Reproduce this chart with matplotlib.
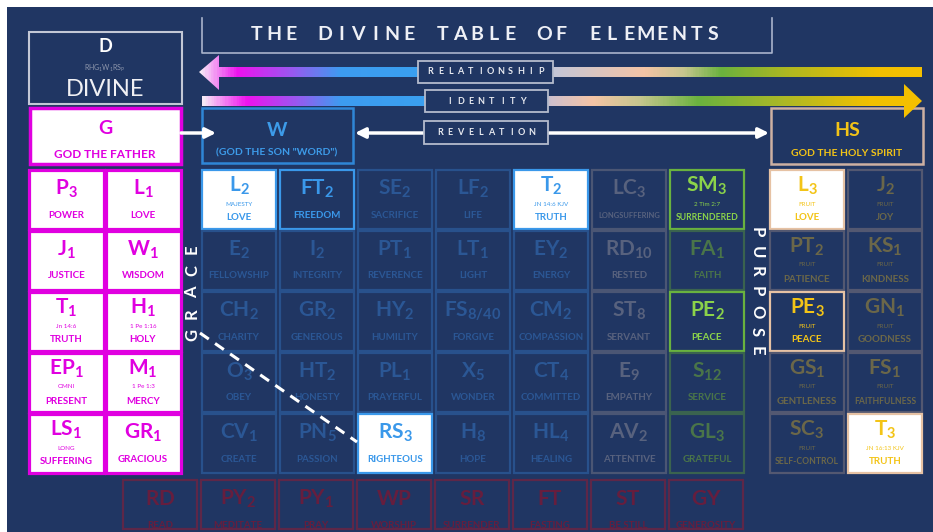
import numpy as np
import matplotlib
matplotlib.use("Agg")
import matplotlib.pyplot as plt
import matplotlib.patches as patches
from matplotlib.colors import LinearSegmentedColormap

plt.rcParams['font.family'] = ['Lato', 'DejaVu Sans']
plt.rcParams['mathtext.fontset'] = 'custom'
plt.rcParams['mathtext.rm'] = 'Lato'
plt.rcParams['mathtext.bf'] = 'Lato:bold'

# ---- data ----
title = "THE DIVINE TABLE OF ELEMENTS"
arrow_labels = ["RELATIONSHIP", "IDENTITY", "REVELATION"]
side_words = ["GRACE", "PURPOSE"]

head_syms = ["D", "G", "W", "HS"]
head_names = ["DIVINE", "GOD THE FATHER", '(GOD THE SON "WORD")', "GOD THE HOLY SPIRIT"]

father_sym = [["P", "L"], ["J", "W"], ["T", "H"], ["EP", "M"], ["LS", "GR"]]
father_sub = [["3", "1"], ["1", "1"], ["1", "1"], ["1", "1"], ["1", "1"]]
father_name = [["POWER", "LOVE"], ["JUSTICE", "WISDOM"], ["TRUTH", "HOLY"],
               ["PRESENT", "MERCY"], ["SUFFERING", "GRACIOUS"]]
father_note = [["", ""], ["", ""], ["Jn 14:6", "1 Pe 1:16"],
               ["OMNI", "1 Pe 1:3"], ["LONG", ""]]

son_sym = [["L", "FT", "SE", "LF", "T", "LC", "SM"],
           ["E", "I", "PT", "LT", "EY", "RD", "FA"],
           ["CH", "GR", "HY", "FS", "CM", "ST", "PE"],
           ["O", "HT", "PL", "X", "CT", "E", "S"],
           ["CV", "PN", "RS", "H", "HL", "AV", "GL"]]
son_sub = [["2", "2", "2", "2", "2", "3", "3"],
           ["2", "2", "1", "1", "2", "10", "1"],
           ["2", "2", "2", "8/40", "2", "8", "2"],
           ["3", "2", "1", "5", "4", "9", "12"],
           ["1", "5", "3", "8", "4", "2", "3"]]
son_name = [["LOVE", "FREEDOM", "SACRIFICE", "LIFE", "TRUTH", "LONGSUFFERING", "SURRENDERED"],
            ["FELLOWSHIP", "INTEGRITY", "REVERENCE", "LIGHT", "ENERGY", "RESTED", "FAITH"],
            ["CHARITY", "GENEROUS", "HUMILITY", "FORGIVE", "COMPASSION", "SERVANT", "PEACE"],
            ["OBEY", "HONESTY", "PRAYERFUL", "WONDER", "COMMITTED", "EMPATHY", "SERVICE"],
            ["CREATE", "PASSION", "RIGHTEOUS", "HOPE", "HEALING", "ATTENTIVE", "GRATEFUL"]]
son_note = [["MAJESTY", "", "", "", "JN 14:6 KJV", "", "2 Tim 2:7"],
            [""] * 7, [""] * 7, [""] * 7, [""] * 7]
son_lit = [["w", "b", "", "", "w", "", "b"],
           ["", "", "", "", "", "", ""],
           ["", "", "", "", "", "", "b"],
           ["", "", "", "", "", "", ""],
           ["", "", "w", "", "", "", ""]]
son_family = ["blue", "blue", "blue", "blue", "blue", "grey", "green"]

spirit_sym = [["L", "J"], ["PT", "KS"], ["PE", "GN"], ["GS", "FS"], ["SC", "T"]]
spirit_sub = [["3", "2"], ["2", "1"], ["3", "1"], ["1", "1"], ["3", "3"]]
spirit_name = [["LOVE", "JOY"], ["PATIENCE", "KINDNESS"], ["PEACE", "GOODNESS"],
               ["GENTLENESS", "FAITHFULNESS"], ["SELF-CONTROL", "TRUTH"]]
spirit_note = [["FRUIT", "FRUIT"], ["FRUIT", "FRUIT"], ["FRUIT", "FRUIT"],
               ["FRUIT", "FRUIT"], ["FRUIT", "JN 16:13 KJV"]]
spirit_lit = [["w", ""], ["", ""], ["b", ""], ["", ""], ["", "w"]]

path_sym = ["RD", "PY", "PY", "WP", "SR", "FT", "ST", "GY"]
path_sub = ["", "2", "1", "", "", "", "", ""]
path_name = ["READ", "MEDITATE", "PRAY", "WORSHIP", "SURRENDER", "FASTING", "BE STILL", "GENEROSITY"]

# ---- styles ----
navy = '#203663'
colors = {
    'father': dict(dim_edge='#e000e0', dim_text='#e000e0', edge='#e000e0', text='#e000e0'),
    'blue': dict(dim_edge='#28518c', dim_text='#2b5795', edge='#3a98ea', text='#3a98ea'),
    'grey': dict(dim_edge='#4b5674', dim_text='#58627e', edge='#8a93aa', text='#8a93aa'),
    'green': dict(dim_edge='#3a634f', dim_text='#4a7549', edge='#69b23f', text='#8bd34a'),
    'gold': dict(dim_edge='#535871', dim_text='#6b6749', edge='#e6c2a4', text='#f3c417'),
    'red': dict(dim_edge='#5e2748', dim_text='#661e3e', edge='#5e2748', text='#661e3e'),
}

fig = plt.figure(figsize=(9.33, 5.32), dpi=100)
ax = fig.add_axes([0, 0, 1, 1])
ax.axis('off')
ax.add_patch(patches.Rectangle((7, 7), 930, 530, facecolor=navy, edgecolor='none', zorder=0))


def spaced(xa, xb, y, s, rot=0, **kw):
    n = len(s)
    for i, ch in enumerate(s):
        t = i / (n - 1)
        if rot == 0:
            ax.text(xa + (xb - xa) * t, y, ch, ha='center', va='center', **kw)
        else:
            ax.text(y, xa + (xb - xa) * t, ch, ha='center', va='center', rotation=rot, **kw)


def cell(x0, y0, w, h, sym, sub, name, note, family, lit, fill=None, lw=1.6):
    c = colors[family]
    edge = c['edge'] if lit else c['dim_edge']
    txt = c['text'] if lit else c['dim_text']
    if fill is None:
        fill = 'white' if lit == 'w' else navy
    ax.add_patch(patches.Rectangle((x0, y0), w, h, facecolor=fill, edgecolor=edge, lw=lw, zorder=3))
    if sub:
        label = r'$\mathbf{' + sym + r'}_{\mathbf{' + sub + r'}}$'
    else:
        label = r'$\mathbf{' + sym + r'}$'
    ax.text(x0 + w / 2, y0 + (16 if note else 19), label, color=txt, fontsize=15,
            ha='center', va='center', zorder=4)
    if note:
        ax.text(x0 + w / 2, y0 + 34, note, color=txt, fontsize=4.5,
                ha='center', va='center', zorder=4)
    if len(name) <= 10:
        fs = 7
    elif len(name) <= 12:
        fs = 6.2
    else:
        fs = 5.4
    ax.text(x0 + w / 2, y0 + (48 if note else 45), name, color=txt, fontsize=fs,
            fontweight='bold', ha='center', va='center', zorder=4)


# title bracket
ax.plot([202, 202, 772, 772], [18, 53, 53, 18], color='#a9b4cc', lw=1.2, zorder=2)
spaced(257, 713, 35, title, color='#eef0f6', fontsize=14, fontweight='bold')

# D box
ax.add_patch(patches.Rectangle((29, 32), 153, 72, facecolor=navy, edgecolor='#c3c8d6', lw=1.5, zorder=3))
ax.text(105, 46, head_syms[0], color='white', fontsize=13, fontweight='bold', ha='center', va='center', zorder=4)
ax.text(105, 68, r'$\mathrm{RHG_1W_1RS_P}$', color='#8e97ad', fontsize=5, ha='center', va='center', zorder=4)
ax.text(105, 90, head_names[0], color='#f0f0f4', fontsize=17, ha='center', va='center', zorder=4)

# G box
ax.add_patch(patches.Rectangle((30, 108), 151, 56, facecolor='white', edgecolor='#e000e0', lw=2.5, zorder=3))
ax.text(105, 129, head_syms[1], color='#e000e0', fontsize=14, fontweight='bold', ha='center', va='center', zorder=4)
ax.text(105, 154, head_names[1], color='#e000e0', fontsize=8.5, fontweight='bold',
        ha='center', va='center', zorder=4)

# W box
ax.add_patch(patches.Rectangle((202, 108), 151, 55, facecolor=navy, edgecolor='#2f86d6', lw=1.8, zorder=3))
ax.text(277, 130, head_syms[2], color='#3d9be9', fontsize=14, fontweight='bold', ha='center', va='center', zorder=4)
ax.text(277, 153, head_names[2], color='#3d9be9', fontsize=7.5, fontweight='bold',
        ha='center', va='center', zorder=4)

# HS box
ax.add_patch(patches.Rectangle((771, 108), 152, 56, facecolor=navy, edgecolor='#cdb0a2', lw=1.8, zorder=3))
ax.text(847, 130, head_syms[3], color='#f3c417', fontsize=14, fontweight='bold', ha='center', va='center', zorder=4)
ax.text(847, 153, head_names[3], color='#f3c417', fontsize=7.5, fontweight='bold',
        ha='center', va='center', zorder=4)


# gradient arrows
def gradient_arrow(verts, stops, x0, x1):
    poly = patches.Polygon(verts, closed=True, facecolor='none', edgecolor='none', zorder=5)
    ax.add_patch(poly)
    cmap = LinearSegmentedColormap.from_list('g', [((x - x0) / (x1 - x0), c) for x, c in stops])
    grad = np.linspace(0, 1, 600).reshape(1, -1)
    ys = [v[1] for v in verts]
    im = ax.imshow(grad, cmap=cmap, extent=(x0, x1, max(ys), min(ys)), aspect='auto',
                   interpolation='bilinear', zorder=5)
    im.set_clip_path(poly)


rel_stops = [(199, '#f6e8f6'), (236, '#ee12ee'), (290, '#9a58f0'), (340, '#3d9cf0'),
             (418, '#3aa0f0'), (555, '#c4c6d6'), (645, '#f4c4a6'), (685, '#c6c68e'),
             (722, '#6ab23e'), (790, '#b0b820'), (880, '#f2c000'), (922, '#f5c000')]
gradient_arrow([(199, 72), (219, 55), (219, 67), (922, 67), (922, 77), (219, 77), (219, 90)],
               rel_stops, 199, 922)

id_stops = [(202, '#f6e8f6'), (245, '#ee12ee'), (295, '#9a58f0'), (340, '#3d9cf0'),
            (424, '#3aa0f0'), (552, '#d0c0cc'), (593, '#f4c4a6'), (640, '#c6c68e'),
            (700, '#6ab23e'), (780, '#a8b828'), (870, '#f2c000'), (922, '#f5c000')]
gradient_arrow([(202, 96), (904, 96), (904, 84), (922, 101), (904, 118), (904, 106), (202, 106)],
               id_stops, 202, 922)

# revelation double arrow and G -> W arrow
ax.annotate('', xy=(769, 133), xytext=(355, 133),
            arrowprops=dict(arrowstyle='<|-|>', color='white', lw=2.5, mutation_scale=15,
                            shrinkA=0, shrinkB=0), zorder=5)
ax.annotate('', xy=(216, 133), xytext=(181, 133),
            arrowprops=dict(arrowstyle='-|>', color='white', lw=2.5, mutation_scale=15,
                            shrinkA=0, shrinkB=0), zorder=5)

# arrow label boxes
label_boxes = [(418, 61, 135, 22), (425, 90, 123, 22), (424, 121, 124, 23)]
for (bx, by, bw, bh), lab in zip(label_boxes, arrow_labels):
    ax.add_patch(patches.Rectangle((bx, by), bw, bh, facecolor=navy, edgecolor='#b5bccd', lw=1.3, zorder=6))
    pad = bw / 2 - len(lab) * 4.6
    spaced(bx + pad, bx + bw - pad, by + bh / 2, lab, color='#e8eaf0', fontsize=6.5,
           fontweight='bold', zorder=7)

# father grid
for r in range(5):
    for c in range(2):
        cell(29 + 76.5 * c, 170 + 61 * r, 75, 59, father_sym[r][c], father_sub[r][c],
             father_name[r][c], father_note[r][c], 'father', 'w', fill='white', lw=2.3)

# son grid
for r in range(5):
    for c in range(7):
        cell(202 + 78 * c, 170 + 61 * r, 74, 59, son_sym[r][c], son_sub[r][c],
             son_name[r][c], son_note[r][c], son_family[c], son_lit[r][c])

# spirit grid
for r in range(5):
    for c in range(2):
        cell(770 + 78 * c, 170 + 61 * r, 74, 59, spirit_sym[r][c], spirit_sub[r][c],
             spirit_name[r][c], spirit_note[r][c], 'gold', spirit_lit[r][c])

# bottom practices row
for k in range(8):
    cell(123 + 78 * k, 480, 74, 49, path_sym[k], path_sub[k], path_name[k], '', 'red', '')

# side words
spaced(335, 249, 192, side_words[0], rot=90, color='white', fontsize=12, fontweight='bold', zorder=6)
spaced(232, 351, 757, side_words[1], rot=270, color='white', fontsize=12, fontweight='bold', zorder=6)

# grace dashed line
ax.plot([200, 357], [333, 442], color='white', lw=2.2, dashes=(3.5, 2.5), zorder=6)

ax.set_xlim(0, 933)
ax.set_ylim(532, 0)
fig.savefig('out.png', dpi=100, facecolor='white')
